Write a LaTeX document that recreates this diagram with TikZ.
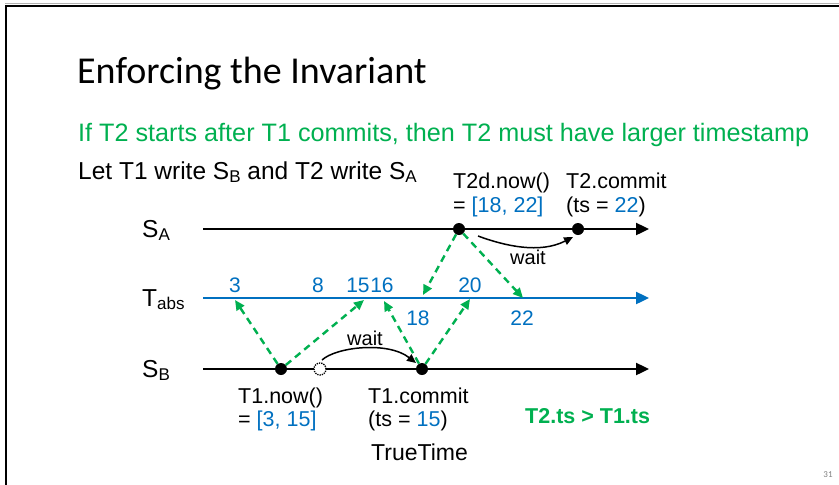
\documentclass[tikz,border=0pt]{standalone}
\usepackage{fontspec}
\setmainfont{Liberation Sans}
\newfontfamily\calibri{Carlito}
\usetikzlibrary{arrows.meta}
\definecolor{pgreen}{RGB}{0,176,80}
\definecolor{pblue}{RGB}{0,112,192}
\newcommand{\mysub}[1]{\raisebox{-0.28ex}{\fontsize{17}{17}\selectfont #1}}
\begin{document}
\begin{tikzpicture}[x=1pt,y=-1pt,
  txt/.style={inner sep=0pt, anchor=base west, font=\fontsize{21.5}{24}\selectfont},
  big/.style={font=\fontsize{24.5}{28}\selectfont},
  num/.style={inner sep=0pt, anchor=base, text=pblue, font=\fontsize{21}{24}\selectfont},
  axis/.style={line width=2.4pt, -{Triangle[length=13pt,width=12pt]}},
  dot/.style={circle, fill=black, inner sep=0pt, minimum size=12pt},
  ghostdot/.style={circle, draw=black, densely dotted, line width=1.3pt, fill=white, inner sep=0pt, minimum size=12pt},
  msg/.style={pgreen, line width=2.4pt, dash pattern=on 7pt off 5pt, -{Triangle[length=10pt,width=9pt]}},
  waitarrow/.style={line width=1.5pt, -{Triangle[length=9pt,width=8pt]}}]
\useasboundingbox (0,0) rectangle (839,485);
% slide frame
\draw[gray!60, line width=1pt] (5,3.6) -- (839,3.6);
\draw[line width=2.4pt] (6,6) -- (839,6);
\draw[line width=2.4pt] (6,5) -- (6,485);
% title and headings
\node[txt, font=\calibri\fontsize{38}{42}\selectfont] (title) at (77,83) {Enforcing the Invariant};
\node[txt, text=pgreen, font=\fontsize{25.2}{28}\selectfont] (subtitle) at (78,141) {If T2 starts after T1 commits, then T2 must have larger timestamp};
\node[txt, big] (letline) at (78,179) {Let T1 write S\mysub{B} and T2 write S\mysub{A}};
% axis labels
\node[txt, big] (lSA) at (142,237) {S\mysub{A}};
\node[txt, big] (lTabs) at (142,306) {T\mysub{abs}};
\node[txt, big] (lSB) at (142,377) {S\mysub{B}};
% axes
\coordinate (saL) at (203,229); \coordinate (saR) at (649,229);
\coordinate (taL) at (203,298); \coordinate (taR) at (649,298);
\coordinate (sbL) at (203,369); \coordinate (sbR) at (649,369);
\draw[axis] (saL) -- (saR);
\draw[axis, pblue] (taL) -- (taR);
\draw[axis] (sbL) -- (sbR);
% events
\node[dot] (t2now) at (459,229) {};
\node[dot] (t2c) at (578,229) {};
\node[dot] (t1now) at (281,369) {};
\node[dot] (t1c) at (422,369) {};
\node[ghostdot] (ghost) at (320,369) {};
% TrueTime values
\node[num] (n3) at (235,292) {3};
\node[num] (n8) at (318,292) {8};
\node[num] (n15) at (358,292) {15};
\node[num] (n16) at (382,292) {16};
\node[num] (n20) at (470,292) {20};
\node[num] (n18) at (418,325) {18};
\node[num] (n22) at (522,325) {22};
% targets on the absolute time line
\coordinate (p3) at (235,300);
\coordinate (p15) at (364,300);
\coordinate (p16) at (384,301);
\coordinate (p20) at (470,299);
\coordinate (p18) at (423,295);
\coordinate (p22) at (523,298);
% messages
\draw[msg] (t1now) -- (p3);
\draw[msg] (t1now) -- (p15);
\draw[msg] (t1c) -- (p16);
\draw[msg] (t1c) -- (p20);
\draw[msg] (t2now) -- (p18);
\draw[msg] (t2now) -- (p22);
% waits
\coordinate (wAs) at (478,236); \coordinate (wAe) at (573,237);
\draw[waitarrow] (wAs) .. controls (505,246) and (540,254) .. (wAe);
\node[num, text=black, font=\fontsize{20}{24}\selectfont] (waitA) at (528,264) {wait};
\coordinate (wBs) at (322,360); \coordinate (wBe) at (416,363);
\draw[waitarrow] (wBs) .. controls (336,347) and (388,341) .. (wBe);
\node[num, text=black, font=\fontsize{20}{24}\selectfont] (waitB) at (365,345) {wait};
% event labels
\node[txt] (t2nowA) at (453,188) {T2d.now()};
\node[txt] (t2nowB) at (453,212) {= \textcolor{pblue}{[18, 22]}};
\node[txt] (t2cA) at (566,188) {T2.commit};
\node[txt] (t2cB) at (566,212) {(ts = \textcolor{pblue}{22})};
\node[txt] (t1nowA) at (238,403) {T1.now()};
\node[txt] (t1nowB) at (238,426) {= \textcolor{pblue}{[3, 15]}};
\node[txt] (t1cA) at (368,403) {T1.commit};
\node[txt] (t1cB) at (368,426) {(ts = \textcolor{pblue}{15})};
\node[txt, font=\fontsize{23}{26}\selectfont] (truetime) at (371,460) {TrueTime};
\node[txt, text=pgreen, font=\bfseries\fontsize{21.5}{24}\selectfont] (concl) at (525,423) {T2.ts > T1.ts};
\node[inner sep=0pt, anchor=base, text=gray, font=\calibri\fontsize{9}{10}\selectfont] (pageno) at (828,477) {31};
\end{tikzpicture}
\end{document}
